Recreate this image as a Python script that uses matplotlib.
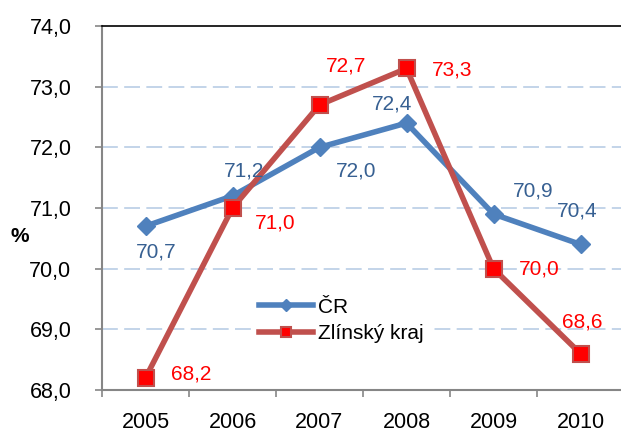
import matplotlib
matplotlib.use("Agg")
import matplotlib.pyplot as plt

plt.rcParams['font.family'] = ['Liberation Sans', 'DejaVu Sans']

# Data
years = ["2005", "2006", "2007", "2008", "2009", "2010"]
cr = [70.7, 71.2, 72.0, 72.4, 70.9, 70.4]
zlin = [68.2, 71.0, 72.7, 73.3, 70.0, 68.6]
yticks = [68, 69, 70, 71, 72, 73, 74]

# label offsets in pixels (dx, dy)
cr_off = [(11, -26), (12, 25), (37, -24), (-14, 19), (40, 23), (-3, 33)]
zlin_off = [(46, 4), (43, -15), (27, 39), (46, -2), (46, 0), (2, 32)]

blue = "#4F81BD"
blue_txt = "#376092"
red_line = "#C0504D"
red = "#FF0000"

fig = plt.figure(figsize=(6.21, 4.34), dpi=100)
ax = fig.add_axes([102/621, 1 - 390/434, 522/621, 364/434])

x = list(range(len(years)))
ax.plot(x, cr, color=blue, lw=4, marker="D", ms=9.5, mfc=blue, mec=blue,
        label="ČR", zorder=3)
ax.plot(x, zlin, color=red_line, lw=4, marker="s", ms=12, mfc=red, mec=red_line,
        mew=1.5, label="Zlínský kraj", zorder=4)

fmt = lambda v: f"{v:.1f}".replace(".", ",")
for i in x:
    ax.annotate(fmt(cr[i]), (i, cr[i]), xytext=cr_off[i], textcoords="offset pixels",
                ha="center", va="center", color=blue_txt, fontsize=15, zorder=5)
    ax.annotate(fmt(zlin[i]), (i, zlin[i]), xytext=zlin_off[i], textcoords="offset pixels",
                ha="center", va="center", color=red, fontsize=15, zorder=5)

ax.set_xlim(-0.5, 5.5)
ax.set_ylim(68, 74)
ax.set_yticks(yticks)
ax.set_yticklabels([f"{v:.1f}".replace(".", ",") for v in yticks], fontsize=15.5)
ax.set_xticks(x)
ax.set_xticklabels(years, fontsize=15.5)
ax.set_xticks([i - 0.5 for i in range(len(years) + 1)], minor=True)
ax.tick_params(axis="x", which="major", length=0, pad=16)
ax.tick_params(axis="x", which="minor", length=5, width=1.2, color="#868686", direction="out")
ax.tick_params(axis="y", length=5, width=1.2, color="#868686", pad=17)

for yv in yticks[1:-1]:
    ax.axhline(yv, color="#B9CDE5", lw=1.2, dashes=(9.5, 3.8), zorder=1)

ax.spines["left"].set_color("#868686")
ax.spines["left"].set_linewidth(1.5)
ax.spines["bottom"].set_color("#868686")
ax.spines["bottom"].set_linewidth(1.5)
ax.spines["top"].set_color("black")
ax.spines["top"].set_linewidth(1.2)
ax.spines["right"].set_visible(False)

leg = ax.legend(loc="upper left", bbox_to_anchor=(140/522, 1 - 255/364), frameon=True,
                fontsize=15, handlelength=2.6, handletextpad=0.25, borderpad=0.3,
                labelspacing=0.35, fancybox=False, markerscale=0.6)
leg.get_frame().set_edgecolor("none")
leg.get_frame().set_facecolor("white")
leg.get_frame().set_alpha(1)

fig.text(20/621, 1 - 236/434, "%", fontsize=15, fontweight="bold", ha="center", va="center")

fig.savefig("out.png", dpi=100)
